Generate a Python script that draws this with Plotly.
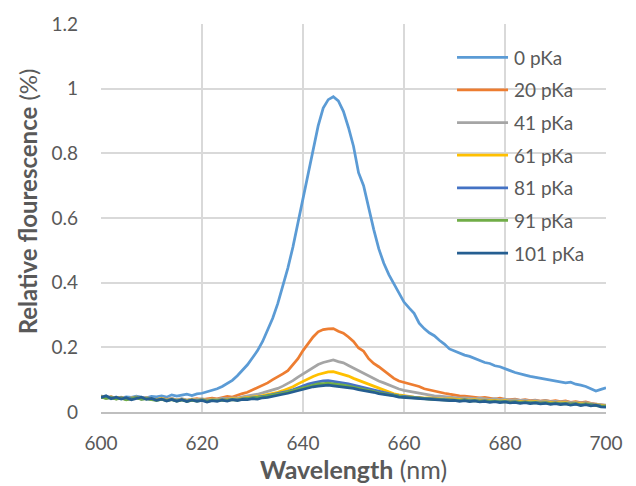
import plotly.graph_objects as go

wavelength = list(range(600, 701))

series_names = ["0 pKa", "20 pKa", "41 pKa", "61 pKa", "81 pKa", "91 pKa", "101 pKa"]
series_colors = ["#5B9BD5", "#ED7D31", "#A5A5A5", "#FFC000", "#4472C4", "#70AD47", "#255E91"]

pka_0 = [0.045, 0.048, 0.044, 0.046, 0.043, 0.047, 0.045, 0.049, 0.046, 0.044,
         0.048, 0.047, 0.050, 0.046, 0.053, 0.049, 0.052, 0.055, 0.051, 0.056,
         0.058, 0.062, 0.066, 0.072, 0.079, 0.088, 0.098, 0.112, 0.128, 0.146,
         0.168, 0.190, 0.218, 0.255, 0.290, 0.335, 0.390, 0.445, 0.510, 0.585,
         0.665, 0.730, 0.815, 0.885, 0.940, 0.966, 0.975, 0.962, 0.930, 0.880,
         0.822, 0.740, 0.700, 0.630, 0.565, 0.505, 0.460, 0.425, 0.395, 0.365,
         0.340, 0.322, 0.305, 0.275, 0.258, 0.245, 0.236, 0.222, 0.210, 0.195,
         0.188, 0.182, 0.176, 0.172, 0.165, 0.158, 0.153, 0.150, 0.143, 0.140,
         0.135, 0.128, 0.122, 0.117, 0.114, 0.110, 0.107, 0.104, 0.100, 0.098,
         0.095, 0.093, 0.090, 0.092, 0.086, 0.083, 0.079, 0.072, 0.065, 0.070,
         0.075]

pka_20 = [0.046, 0.043, 0.047, 0.041, 0.044, 0.039, 0.042, 0.045, 0.041, 0.044,
          0.040, 0.038, 0.042, 0.039, 0.041, 0.037, 0.040, 0.036, 0.039, 0.041,
          0.038, 0.040, 0.043, 0.041, 0.045, 0.048, 0.046, 0.052, 0.057, 0.061,
          0.068, 0.074, 0.083, 0.090, 0.100, 0.108, 0.118, 0.128, 0.145, 0.165,
          0.190, 0.212, 0.232, 0.248, 0.255, 0.257, 0.258, 0.250, 0.244, 0.232,
          0.218, 0.198, 0.188, 0.165, 0.150, 0.140, 0.128, 0.118, 0.104, 0.096,
          0.092, 0.088, 0.085, 0.079, 0.072, 0.068, 0.064, 0.060, 0.058, 0.055,
          0.052, 0.050, 0.049, 0.047, 0.046, 0.044, 0.045, 0.042, 0.040, 0.043,
          0.039, 0.038, 0.040, 0.036, 0.038, 0.035, 0.037, 0.034, 0.036, 0.033,
          0.035, 0.032, 0.034, 0.030, 0.032, 0.029, 0.031, 0.027, 0.025, 0.022,
          0.020]

pka_41 = [0.050, 0.045, 0.047, 0.043, 0.046, 0.041, 0.044, 0.047, 0.042, 0.045,
          0.041, 0.039, 0.043, 0.038, 0.042, 0.038, 0.041, 0.037, 0.040, 0.038,
          0.041, 0.037, 0.040, 0.039, 0.042, 0.041, 0.044, 0.043, 0.047, 0.049,
          0.052, 0.055, 0.059, 0.063, 0.068, 0.073, 0.080, 0.088, 0.097, 0.108,
          0.118, 0.128, 0.138, 0.147, 0.153, 0.158, 0.161, 0.156, 0.152, 0.144,
          0.136, 0.127, 0.119, 0.110, 0.103, 0.096, 0.090, 0.083, 0.077, 0.071,
          0.067, 0.064, 0.060, 0.057, 0.055, 0.052, 0.050, 0.049, 0.047, 0.046,
          0.045, 0.043, 0.044, 0.042, 0.041, 0.043, 0.040, 0.039, 0.041, 0.038,
          0.040, 0.037, 0.038, 0.036, 0.037, 0.034, 0.036, 0.033, 0.035, 0.032,
          0.033, 0.031, 0.032, 0.029, 0.030, 0.028, 0.029, 0.026, 0.024, 0.023,
          0.021]

pka_61 = [0.048, 0.044, 0.046, 0.042, 0.045, 0.040, 0.043, 0.046, 0.041, 0.043,
          0.040, 0.038, 0.041, 0.037, 0.040, 0.036, 0.039, 0.035, 0.038, 0.036,
          0.039, 0.035, 0.038, 0.037, 0.039, 0.038, 0.041, 0.040, 0.043, 0.044,
          0.046, 0.048, 0.051, 0.054, 0.057, 0.061, 0.066, 0.072, 0.078, 0.087,
          0.095, 0.103, 0.110, 0.116, 0.120, 0.124, 0.125, 0.121, 0.117, 0.111,
          0.104, 0.098, 0.091, 0.085, 0.078, 0.072, 0.066, 0.061, 0.056, 0.053,
          0.050, 0.048, 0.046, 0.045, 0.043, 0.044, 0.042, 0.041, 0.040, 0.041,
          0.039, 0.038, 0.040, 0.037, 0.038, 0.036, 0.037, 0.035, 0.036, 0.034,
          0.035, 0.033, 0.034, 0.032, 0.033, 0.031, 0.032, 0.030, 0.031, 0.029,
          0.030, 0.028, 0.029, 0.026, 0.028, 0.025, 0.026, 0.024, 0.022, 0.021,
          0.019]

pka_81 = [0.047, 0.043, 0.045, 0.041, 0.044, 0.039, 0.042, 0.045, 0.040, 0.042,
          0.039, 0.037, 0.040, 0.036, 0.039, 0.035, 0.038, 0.034, 0.037, 0.035,
          0.038, 0.034, 0.037, 0.036, 0.038, 0.037, 0.039, 0.038, 0.041, 0.042,
          0.044, 0.046, 0.048, 0.051, 0.054, 0.057, 0.060, 0.064, 0.069, 0.075,
          0.080, 0.086, 0.090, 0.094, 0.096, 0.097, 0.095, 0.093, 0.090, 0.087,
          0.083, 0.079, 0.075, 0.071, 0.067, 0.063, 0.059, 0.056, 0.053, 0.050,
          0.048, 0.046, 0.045, 0.043, 0.042, 0.041, 0.040, 0.039, 0.038, 0.039,
          0.037, 0.036, 0.038, 0.035, 0.036, 0.034, 0.035, 0.033, 0.034, 0.032,
          0.033, 0.031, 0.032, 0.030, 0.031, 0.029, 0.030, 0.028, 0.029, 0.027,
          0.028, 0.026, 0.027, 0.025, 0.026, 0.023, 0.025, 0.022, 0.021, 0.019,
          0.018]

pka_91 = [0.046, 0.042, 0.044, 0.040, 0.043, 0.038, 0.041, 0.044, 0.039, 0.041,
          0.038, 0.036, 0.039, 0.035, 0.038, 0.034, 0.037, 0.033, 0.036, 0.034,
          0.037, 0.033, 0.036, 0.035, 0.037, 0.036, 0.038, 0.037, 0.040, 0.041,
          0.043, 0.045, 0.047, 0.049, 0.052, 0.055, 0.058, 0.062, 0.066, 0.071,
          0.076, 0.080, 0.084, 0.087, 0.088, 0.089, 0.087, 0.086, 0.083, 0.080,
          0.077, 0.073, 0.070, 0.066, 0.063, 0.059, 0.056, 0.053, 0.051, 0.048,
          0.046, 0.045, 0.043, 0.042, 0.041, 0.040, 0.039, 0.038, 0.037, 0.038,
          0.036, 0.035, 0.037, 0.034, 0.035, 0.033, 0.034, 0.032, 0.033, 0.031,
          0.032, 0.030, 0.031, 0.029, 0.030, 0.028, 0.029, 0.027, 0.028, 0.026,
          0.027, 0.025, 0.026, 0.024, 0.025, 0.022, 0.024, 0.021, 0.020, 0.018,
          0.017]

pka_101 = [0.045, 0.050, 0.041, 0.046, 0.040, 0.044, 0.038, 0.043, 0.046, 0.039,
           0.042, 0.036, 0.040, 0.034, 0.039, 0.033, 0.038, 0.032, 0.037, 0.033,
           0.036, 0.031, 0.035, 0.033, 0.037, 0.034, 0.038, 0.035, 0.039, 0.038,
           0.041, 0.040, 0.044, 0.045, 0.049, 0.051, 0.055, 0.058, 0.062, 0.066,
           0.071, 0.075, 0.078, 0.080, 0.082, 0.083, 0.081, 0.079, 0.078, 0.075,
           0.073, 0.069, 0.067, 0.063, 0.061, 0.057, 0.055, 0.051, 0.050, 0.046,
           0.045, 0.043, 0.042, 0.040, 0.041, 0.038, 0.039, 0.036, 0.037, 0.035,
           0.036, 0.033, 0.035, 0.032, 0.034, 0.031, 0.033, 0.030, 0.032, 0.029,
           0.031, 0.028, 0.030, 0.027, 0.029, 0.026, 0.028, 0.025, 0.027, 0.024,
           0.026, 0.023, 0.025, 0.021, 0.024, 0.020, 0.023, 0.019, 0.021, 0.016,
           0.015]

series_values = [pka_0, pka_20, pka_41, pka_61, pka_81, pka_91, pka_101]

FONT = "Lato"
TXT = "#595959"
W, H = 636, 486
ML, MR, MT, MB = 101, 30, 16, 74
plot_w = W - ML - MR
plot_h = H - MT - MB

fig = go.Figure()
for name, color, vals in zip(series_names, series_colors, series_values):
    fig.add_trace(go.Scatter(
        x=wavelength, y=vals, mode="lines", name=name,
        line=dict(color=color, width=2.75),
        showlegend=False,
    ))

# legend drawn inside the plot area (Excel style: long line sample, transparent)
leg_x0, leg_x1, leg_tx = 0.705, 0.806, 0.814
leg_top_px, leg_step_px = 50, 33.3
for i, (name, color) in enumerate(zip(series_names, series_colors)):
    yp = 1 - (leg_top_px + i * leg_step_px - MT) / plot_h
    fig.add_shape(type="line", xref="paper", yref="paper",
                  x0=leg_x0, x1=leg_x1, y0=yp, y1=yp,
                  line=dict(color=color, width=2.75))
    fig.add_annotation(xref="paper", yref="paper", x=leg_tx, y=yp,
                       text=name, showarrow=False, xanchor="left", yanchor="middle",
                       font=dict(family=FONT, size=19, color=TXT))

# y-axis title (placed like the Excel original, slightly above centre)
fig.add_annotation(xref="paper", yref="paper",
                   x=(27 - ML) / plot_w, y=1 - (197 - MT) / plot_h,
                   text="<b>Relative flourescence</b> (%)", textangle=-90,
                   showarrow=False, xanchor="center", yanchor="middle",
                   font=dict(family=FONT, size=24, color=TXT))

fig.update_layout(
    width=W, height=H,
    margin=dict(l=ML, r=MR, t=MT, b=MB),
    paper_bgcolor="white", plot_bgcolor="white",
    font=dict(family=FONT, size=19, color=TXT),
    showlegend=False,
    xaxis=dict(
        range=[600, 700], dtick=20, tick0=600,
        showgrid=True, gridcolor="#D9D9D9", gridwidth=1.5,
        showline=True, linecolor="#BFBFBF", linewidth=1.5,
        zeroline=False, ticks="", ticklabelstandoff=13,
        tickfont=dict(family=FONT, size=19, color=TXT),
        title=dict(text="<b>Wavelength</b> (nm)", standoff=0,
                   font=dict(family=FONT, size=25, color=TXT)),
    ),
    yaxis=dict(
        range=[0, 1.2], dtick=0.2, tick0=0,
        showgrid=True, gridcolor="#D9D9D9", gridwidth=1.5,
        showline=False, zeroline=False, ticks="", ticklabelstandoff=22,
        tickfont=dict(family=FONT, size=19, color=TXT),
    ),
)

fig.write_html("out.html", config={"displayModeBar": False},
               post_script="document.body.style.margin='0';")
